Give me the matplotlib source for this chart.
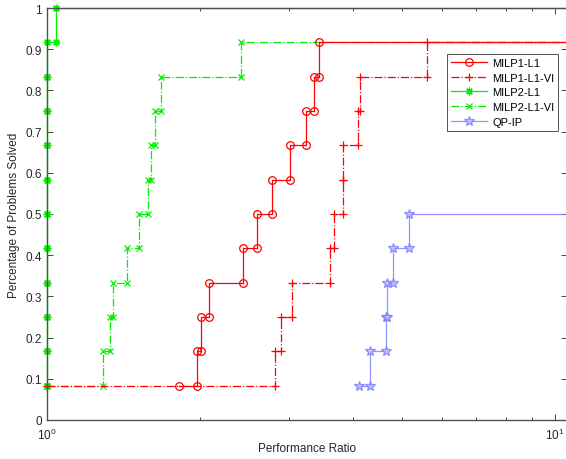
import matplotlib
matplotlib.use("Agg")
import matplotlib.pyplot as plt
from matplotlib.ticker import FixedLocator, FuncFormatter, LogLocator, NullFormatter

plt.rcParams['font.family'] = ['Liberation Sans', 'DejaVu Sans']

n_problems = 12

# sorted performance ratios per solver (unsolved problems left out)
milp1_l1 = [1.819, 1.974, 2.007, 2.087, 2.428, 2.594, 2.777, 3.012, 3.239, 3.350, 3.436]
milp1_l1_vi = [1.0, 2.814, 2.882, 3.041, 3.612, 3.681, 3.824, 3.830, 4.101, 4.138, 5.589]
milp2_l1 = [1.0] * 11 + [1.042]
milp2_l1_vi = [1.0, 1.287, 1.331, 1.346, 1.439, 1.514, 1.584, 1.602, 1.634, 1.674, 2.406]
qp_ip = [4.120, 4.324, 4.642, 4.677, 4.792, 5.152]

labels = ['MILP1-L1', 'MILP1-L1-VI', 'MILP2-L1', 'MILP2-L1-VI', 'QP-IP']
y_ticks = [i / 10 for i in range(11)]
x_max = 10.56


def stairs(theta, end=13.0):
    """Corner points of the performance profile step curve."""
    xs, ys = [], []
    for i, t in enumerate(theta):
        if i > 0:
            xs.append(t)
            ys.append(i / n_problems)
        xs.append(t)
        ys.append((i + 1) / n_problems)
    xs.append(end)
    ys.append(len(theta) / n_problems)
    return xs, ys


fig = plt.figure(figsize=(5.66, 4.60), dpi=100)
ax = fig.add_axes([47 / 566, 39 / 460, 520 / 566, 412 / 460])

styles = [
    dict(color='red', ls='-', marker='o', mfc='none', ms=5.5, zorder=4),
    dict(color='red', ls='-.', marker='+', ms=6, zorder=4),
    dict(color='#00ee00', ls='-', marker=(8, 2, 0), ms=5.5, zorder=3),
    dict(color='#00ee00', ls='-.', marker='x', ms=4, zorder=3),
    dict(color='#7878ff', ls='-', marker='*', mfc='#b8b8ff', ms=7, alpha=0.8, zorder=3),
]

for theta, lab, st in zip([milp1_l1, milp1_l1_vi, milp2_l1, milp2_l1_vi, qp_ip], labels, styles):
    xs, ys = stairs(theta)
    ax.plot(xs, ys, lw=0.9, mew=0.9, label=lab, clip_on=False, **st)

ax.set_xscale('log')
ax.set_xlim(1, x_max)
ax.set_ylim(0, 1)

ax.yaxis.set_major_locator(FixedLocator(y_ticks))
ax.yaxis.set_major_formatter(FuncFormatter(lambda v, p: '%g' % v))
ax.xaxis.set_major_locator(FixedLocator([1, 10]))
ax.xaxis.set_minor_locator(LogLocator(base=10, subs=range(2, 10)))
ax.xaxis.set_minor_formatter(NullFormatter())

ax.tick_params(which='both', direction='in', top=True, right=True,
               labelsize=8.5, colors='#262626', width=0.6)
ax.tick_params(which='major', length=4)
ax.tick_params(which='minor', length=2.5)
ax.tick_params(axis='x', pad=5)
for s in ax.spines.values():
    s.set_color('#505050')
    s.set_linewidth(1.0)
    s.set_zorder(6)

ax.set_xlabel('Performance Ratio', fontsize=8.5, color='#262626', labelpad=0)
ax.set_ylabel('Percentage of Problems Solved', fontsize=8.5, color='#262626', labelpad=4)

leg = ax.legend(loc='upper right', bbox_to_anchor=(0.983, 0.888), fontsize=8,
                frameon=True, fancybox=False, edgecolor='#262626',
                handlelength=3.2, borderpad=0.35, labelspacing=0.42, handletextpad=0.5,
                borderaxespad=0)
leg.get_frame().set_linewidth(0.7)
leg.set_zorder(10)

fig.savefig('out.png', dpi=100)
